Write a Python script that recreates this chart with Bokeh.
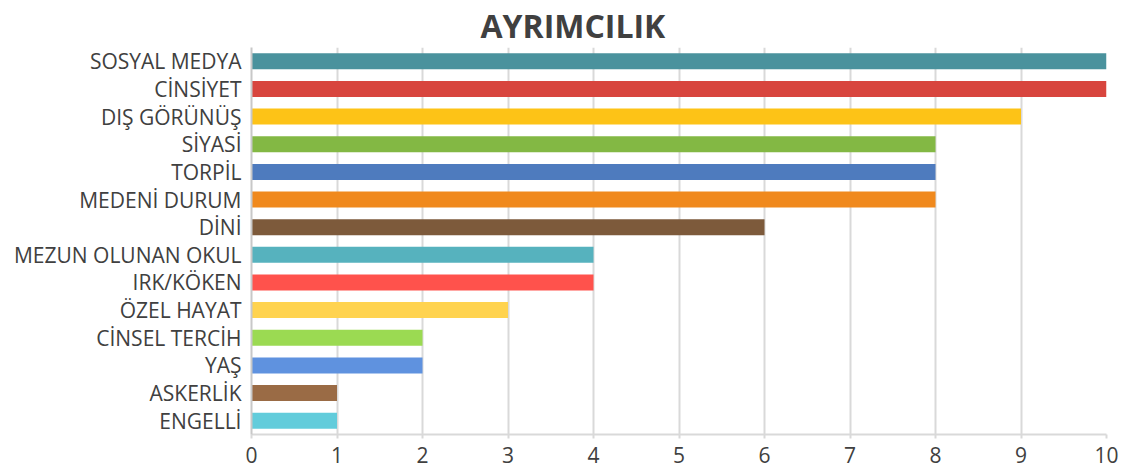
from bokeh.plotting import figure
from bokeh.models import ColumnDataSource, FactorRange, Range1d, FixedTicker
from bokeh.embed import file_html
from bokeh.resources import INLINE

title_text = "AYRIMCILIK"
categories = ["SOSYAL MEDYA", "CİNSİYET", "DIŞ GÖRÜNÜŞ", "SİYASİ", "TORPİL",
              "MEDENİ DURUM", "DİNİ", "MEZUN OLUNAN OKUL", "IRK/KÖKEN",
              "ÖZEL HAYAT", "CİNSEL TERCİH", "YAŞ", "ASKERLİK", "ENGELLİ"]
values = [10, 10, 9, 8, 8, 8, 6, 4, 4, 3, 2, 2, 1, 1]
colors = ["#4A929D", "#D8453E", "#FDC317", "#83B844", "#4E7BBE", "#F0891D",
          "#7D5A3B", "#56B2BE", "#FF524C", "#FFD34F", "#9BDA52", "#5F92DF",
          "#9A6B45", "#62CCDB"]
x_ticks = [0, 1, 2, 3, 4, 5, 6, 7, 8, 9, 10]

src = ColumnDataSource(dict(cat=categories, val=values, color=colors))

FONT = "Open Sans"
TXT = "#404040"
GRID = "#D9D9D9"

p = figure(width=1126, height=467, output_backend="svg", toolbar_location=None,
           y_range=FactorRange(factors=list(reversed(categories))),
           x_range=Range1d(0, 10),
           min_border_left=251, min_border_right=20, min_border_top=46,
           min_border_bottom=33)
p.outline_line_color = None

p.title.text = title_text
p.title.align = "left"
p.title.offset = 229
p.title.standoff = 2
p.title.text_font = FONT
p.title.text_font_size = "32px"
p.title.text_font_style = "bold"
p.title.text_color = TXT

p.hbar(y="cat", right="val", left=0, height=0.58, fill_color="color",
       line_color=None, source=src)

p.xgrid.grid_line_color = GRID
p.xgrid.grid_line_width = 2
p.ygrid.grid_line_color = None

p.xaxis.ticker = FixedTicker(ticks=x_ticks)
p.xaxis.minor_tick_line_color = None
p.xaxis.major_tick_line_color = GRID
p.xaxis.major_tick_line_width = 2
p.xaxis.major_tick_in = 0
p.xaxis.major_tick_out = 4
p.xaxis.major_label_standoff = 8
p.xaxis.axis_line_color = GRID
p.xaxis.axis_line_width = 2
p.xaxis.major_label_text_font = FONT
p.xaxis.major_label_text_font_size = "21px"
p.xaxis.major_label_text_color = TXT

p.yaxis.major_tick_line_color = None
p.yaxis.minor_tick_line_color = None
p.yaxis.axis_line_color = "#C8C8C8"
p.yaxis.axis_line_width = 2
p.yaxis.major_label_standoff = 4
p.yaxis.major_label_text_font = FONT
p.yaxis.major_label_text_font_size = "21px"
p.yaxis.major_label_text_color = TXT

open("out.html", "w").write(file_html(p, INLINE))
